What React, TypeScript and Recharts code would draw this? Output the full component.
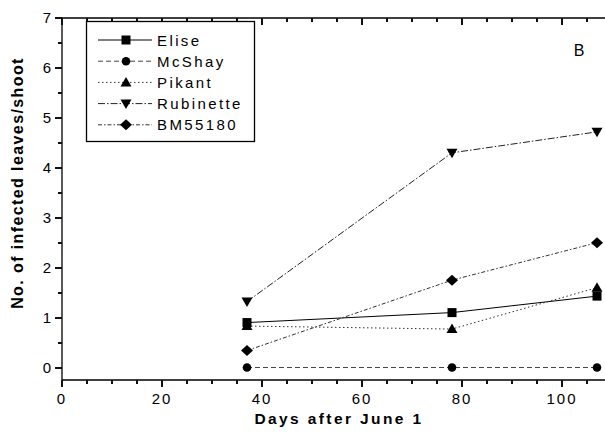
import React from 'react';
import { LineChart, Line, XAxis, YAxis } from 'recharts';

const days = [37, 78, 107];
const elise = [0.9, 1.1, 1.43];
const mcShay = [0, 0, 0];
const pikant = [0.83, 0.77, 1.6];
const rubinette = [1.32, 4.3, 4.72];
const bm55180 = [0.34, 1.75, 2.5];

const xTicks = [0, 5, 10, 15, 20, 25, 30, 35, 40, 45, 50, 55, 60, 65, 70, 75, 80, 85, 90, 95, 100, 105, 110];
const yTicks = [0, 0.5, 1, 1.5, 2, 2.5, 3, 3.5, 4, 4.5, 5, 5.5, 6, 6.5, 7];

const FONT = '"Liberation Sans", Arial, sans-serif';

const rows = days.map((d, i) => ({
  day: d,
  elise: elise[i],
  mcShay: mcShay[i],
  pikant: pikant[i],
  rubinette: rubinette[i],
  bm55180: bm55180[i],
}));

type Shape = 'square' | 'circle' | 'up' | 'down' | 'diamond';

function Marker({ shape, cx, cy }: { shape: Shape; cx: number; cy: number }) {
  if (shape === 'square') return <rect x={cx - 4.5} y={cy - 4.5} width={9} height={9} fill="#000" />;
  if (shape === 'circle') return <circle cx={cx} cy={cy} r={4.3} fill="#000" />;
  if (shape === 'up')
    return <polygon points={`${cx},${cy - 5.5} ${cx - 5.5},${cy + 4} ${cx + 5.5},${cy + 4}`} fill="#000" />;
  if (shape === 'down')
    return <polygon points={`${cx - 5.5},${cy - 4} ${cx + 5.5},${cy - 4} ${cx},${cy + 5.5}`} fill="#000" />;
  return <polygon points={`${cx},${cy - 5.5} ${cx + 6},${cy} ${cx},${cy + 5.5} ${cx - 6},${cy}`} fill="#000" />;
}

const dotOf = (shape: Shape) => (p: any) =>
  <Marker key={`${shape}-${p.index}`} shape={shape} cx={p.cx} cy={p.cy} />;

const SERIES = [
  { key: 'elise', name: 'Elise', shape: 'square' as Shape, dash: undefined, color: '#000' },
  { key: 'mcShay', name: 'McShay', shape: 'circle' as Shape, dash: '5 3', color: '#444' },
  { key: 'pikant', name: 'Pikant', shape: 'up' as Shape, dash: '1.5 2.5', color: '#333' },
  { key: 'rubinette', name: 'Rubinette', shape: 'down' as Shape, dash: '7 2 1.5 2', color: '#222' },
  { key: 'bm55180', name: 'BM55180', shape: 'diamond' as Shape, dash: '4 2 1.5 2', color: '#333' },
];

// tick marks are small filled rects; long every 20 (x) / 1 (y), short in between
function BottomTick(props: any) {
  const x = Math.round(Number(props.x));
  const y = Number(props.y);
  const v = props.payload.value;
  const major = v % 20 === 0;
  return (
    <g>
      <rect x={x - 1} y={y} width={2} height={major ? 7 : 4} fill="#111" />
      {major && (
        <text x={x} y={y + 24} textAnchor="middle" fontSize={15} letterSpacing={2} fontFamily={FONT} fill="#000">
          {v}
        </text>
      )}
    </g>
  );
}

function TopTick(props: any) {
  const x = Math.round(Number(props.x));
  const y = Number(props.y);
  const major = props.payload.value % 20 === 0;
  return <rect x={x - 1} y={y} width={2} height={major ? 7 : 4} fill="#111" />;
}

function LeftTick(props: any) {
  const x = Number(props.x);
  const y = Math.round(Number(props.y));
  const v = props.payload.value;
  const major = Number.isInteger(v);
  const len = major ? 7 : 4;
  return (
    <g>
      <rect x={x - len} y={y - 1} width={len} height={2} fill="#111" />
      {major && (
        <text x={x - 10} y={y + 5} textAnchor="end" fontSize={15} letterSpacing={1} fontFamily={FONT} fill="#000">
          {v}
        </text>
      )}
    </g>
  );
}

export default function App() {
  return (
    <div style={{ position: 'absolute', left: 0, top: 0, width: 605, height: 437, overflow: 'hidden', background: '#fff' }}>
      <LineChart width={620} height={437} data={rows} margin={{ top: 8, right: 8, bottom: 27, left: 32 }}>
        <XAxis
          xAxisId="b"
          type="number"
          dataKey="day"
          domain={[0, 110]}
          ticks={xTicks}
          interval={0}
          height={30}
          tickSize={0}
          tickMargin={0}
          tickLine={false}
          tick={BottomTick}
          axisLine={{ stroke: '#000', strokeWidth: 1.3 }}
          allowDataOverflow
        />
        <XAxis
          xAxisId="t"
          orientation="top"
          type="number"
          dataKey="day"
          domain={[0, 110]}
          ticks={xTicks}
          interval={0}
          height={10}
          tickSize={0}
          tickMargin={0}
          tickLine={false}
          tick={TopTick}
          axisLine={{ stroke: '#000', strokeWidth: 1.3 }}
          allowDataOverflow
        />
        <YAxis
          type="number"
          domain={[-0.25, 7]}
          ticks={yTicks}
          interval={0}
          width={30}
          tickSize={0}
          tickMargin={0}
          tickLine={false}
          tick={LeftTick}
          axisLine={{ stroke: '#000', strokeWidth: 1.3 }}
          allowDataOverflow
        />
        {SERIES.map((s) => (
          <Line
            key={s.key}
            xAxisId="b"
            type="linear"
            dataKey={s.key}
            name={s.name}
            stroke={s.color}
            strokeWidth={1}
            strokeDasharray={s.dash}
            dot={dotOf(s.shape)}
            activeDot={false}
            isAnimationActive={false}
          />
        ))}
      </LineChart>

      {/* titles, panel letter and legend box */}
      <svg width={605} height={437} style={{ position: 'absolute', left: 0, top: 0, pointerEvents: 'none' }}>
        <text
          transform="translate(23,183) rotate(-90)"
          textAnchor="middle"
          fontSize={16}
          fontWeight="bold"
          letterSpacing={1.4}
          fontFamily={FONT}
          fill="#000"
        >
          No. of infected leaves/shoot
        </text>
        <text x={339} y={424} textAnchor="middle" fontSize={15.5} fontWeight="bold" letterSpacing={2.4} fontFamily={FONT} fill="#000">
          Days after June 1
        </text>
        <text x={579} y={56} textAnchor="middle" fontSize={16} fontFamily={FONT} fill="#000">
          B
        </text>
        <rect x={86.5} y={21.5} width={168} height={120} fill="#fff" stroke="#000" strokeWidth={1.3} />
        {SERIES.map((s, i) => {
          const y = 40 + i * 21.2;
          return (
            <g key={s.key}>
              <line x1={98} x2={152} y1={y} y2={y} stroke={s.color} strokeDasharray={s.dash} />
              <Marker shape={s.shape} cx={126} cy={y} />
              <text x={157} y={y + 5.5} fontSize={15} letterSpacing={2.4} fontFamily={FONT} fill="#000">
                {s.name}
              </text>
            </g>
          );
        })}
      </svg>
    </div>
  );
}
